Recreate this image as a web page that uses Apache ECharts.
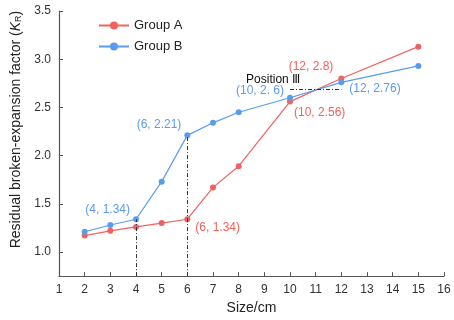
<!DOCTYPE html>
<html><head><meta charset="utf-8">
<script src="https://cdn.jsdelivr.net/npm/echarts@6/dist/echarts.min.js"></script>
<style>html,body{margin:0;padding:0;background:#fff}#c{width:454px;height:320px}</style>
</head><body><div id="c"></div>
<script>
const sizes = [2, 3, 4, 5, 6, 7, 8, 10, 12, 15];
const groupA = [1.17, 1.22, 1.26, 1.30, 1.34, 1.67, 1.89, 2.56, 2.80, 3.13];
const groupB = [1.21, 1.28, 1.34, 1.73, 2.21, 2.34, 2.45, 2.60, 2.76, 2.93];
const yTicks = [1.0, 1.5, 2.0, 2.5, 3.0, 3.5];
const xTicks = [1,2,3,4,5,6,7,8,9,10,11,12,13,14,15,16];
const labelsA = {6: '(6, 1.34)', 10: '(10, 2.56)', 12: '(12, 2.8)'};
const labelsB = {4: '(4, 1.34)', 6: '(6, 2.21)', 10: '(10, 2. 6)', 12: '(12, 2.76)'};
const vGuides = [[4, 1.34], [6, 2.21]];
const hGuide = [[10, 2.69], [12, 2.69]];
const posNote = {text: 'Position Ⅲ', x: 9.34, y: 2.79};

const redC = '#F0625F', blueC = '#5B9BEF';
const posA = {6: ['right', [0, 8]], 10: ['right', [-4, 11]], 12: ['left', [0, -12]]};
const posB = {4: ['left', [2, -10]], 6: ['left', [2, -11]], 10: ['left', [2, -7]], 12: ['right', [0, 6]]};

function build(vals, labels, pos, color) {
  return sizes.map((x, i) => {
    const d = {value: [x, vals[i]]};
    if (labels[x]) {
      d.label = {show: true, formatter: labels[x], position: pos[x][0], offset: pos[x][1],
        color: color, fontSize: 12, fontFamily: 'Liberation Sans'};
    }
    return d;
  });
}

const chart = echarts.init(document.getElementById('c'));
chart.setOption({
  animation: false,
  textStyle: {fontFamily: 'Liberation Sans'},
  grid: {left: 59, right: 10, top: 11, bottom: 39},
  legend: {
    orient: 'vertical', left: 93, top: 14, itemWidth: 30, itemHeight: 10, itemGap: 8,
    textStyle: {fontSize: 13, color: '#222', fontFamily: 'Liberation Sans'},
    data: ['Group A', 'Group B']
  },
  xAxis: {
    type: 'value', min: 1, max: 16, interval: 1,
    name: 'Size/cm', nameLocation: 'middle', nameGap: 23,
    nameTextStyle: {fontSize: 14, color: '#222'},
    axisLine: {lineStyle: {color: '#555', width: 1.2}},
    axisTick: {inside: true, length: 4, lineStyle: {color: '#555'}, customValues: xTicks},
    axisLabel: {fontSize: 12, color: '#333', margin: 8, customValues: xTicks},
    splitLine: {show: false}
  },
  yAxis: {
    type: 'value', min: 0.75, max: 3.5,
    name: '{a|Residual broken-expansion factor (}{i|K}{s|R}{a|)}',
    nameLocation: 'middle', nameGap: 20,
    nameTextStyle: {fontSize: 14, color: '#222', padding: [0, 0, -10, 28],
      rich: {a: {fontSize: 14, color: '#222'}, i: {fontSize: 14, fontStyle: 'italic', color: '#222'},
             s: {fontSize: 9, color: '#222', verticalAlign: 'bottom', padding: [6, 0, 0, 0]}}},
    axisLine: {show: true, lineStyle: {color: '#555', width: 1.2}},
    axisTick: {show: true, inside: true, length: 4, lineStyle: {color: '#555'}, customValues: yTicks},
    axisLabel: {fontSize: 12, color: '#333', margin: 8, customValues: yTicks,
      formatter: v => v.toFixed(1)},
    splitLine: {show: false}
  },
  series: [
    {
      name: 'Group A', type: 'line', data: build(groupA, labelsA, posA, redC),
      color: redC, symbol: 'circle', symbolSize: 6, lineStyle: {width: 1.2},
      itemStyle: {color: redC}, z: 3,
      markPoint: {
        symbol: 'circle', symbolSize: 0, silent: true,
        data: [{coord: [posNote.x, posNote.y], label: {show: true, formatter: posNote.text,
          position: 'inside', color: '#111', fontSize: 12, fontFamily: 'Liberation Sans'}}]
      }
    },
    {
      name: 'Group B', type: 'line', data: build(groupB, labelsB, posB, blueC),
      color: blueC, symbol: 'circle', symbolSize: 6, lineStyle: {width: 1.2},
      itemStyle: {color: blueC}, z: 4,
      markLine: {
        silent: true, symbol: 'none', label: {show: false},
        lineStyle: {color: '#333', type: [4, 2, 1, 2], width: 1},
        data: vGuides.map(g => [{coord: [g[0], 0.75]}, {coord: [g[0], g[1]]}])
          .concat([[{coord: hGuide[0]}, {coord: hGuide[1]}]])
      }
    }
  ]
});
</script></body></html>
